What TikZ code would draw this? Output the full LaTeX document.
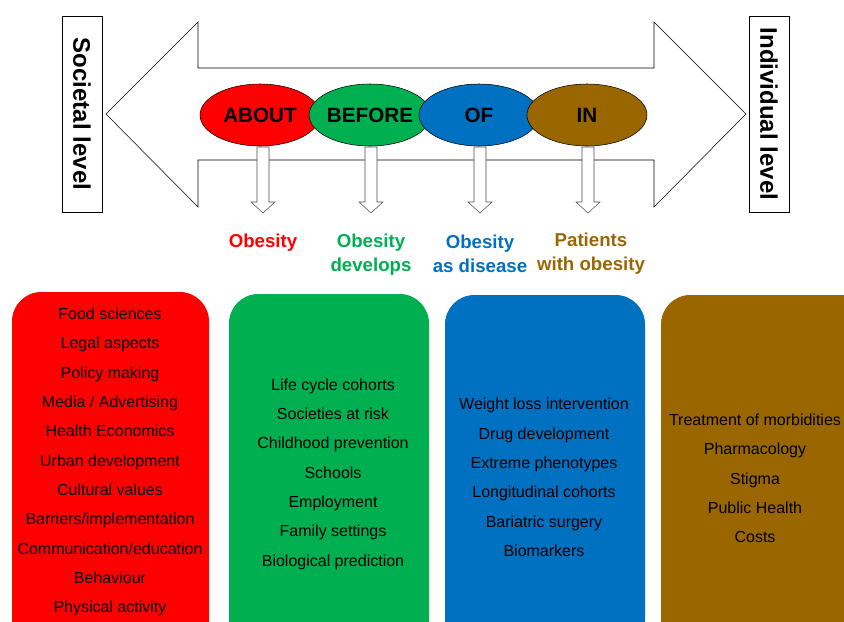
\documentclass[tikz,border=0pt]{standalone}
\usepackage{fontspec}
\setmainfont{Liberation Sans}
\usepackage{xcolor}
\usetikzlibrary{shapes.geometric}
\definecolor{aboutred}{HTML}{FF0000}
\definecolor{beforegreen}{HTML}{00B050}
\definecolor{ofblue}{HTML}{0070C0}
\definecolor{inbrown}{HTML}{996600}
\begin{document}
\begin{tikzpicture}[x=0.75pt,y=-0.75pt]
% Styles
\tikzstyle{niveau}=[draw,thin,fill=white,rotate=-90,minimum width=147pt,minimum height=30pt,inner sep=0pt,font=\bfseries\fontsize{18}{20}\selectfont]
\tikzstyle{bulle}=[ellipse,draw,thin,minimum width=90pt,minimum height=46.5pt,inner sep=0pt,font=\bfseries\fontsize{15.5}{17}\selectfont]
\tikzstyle{bloc}=[draw=black!70,fill=white,thin]
\tikzstyle{titre}=[align=center,font=\bfseries\fontsize{14}{18}\selectfont]
\tikzstyle{liste}=[align=center,font=\fontsize{12}{22}\selectfont]
\tikzstyle{boite}=[rounded corners=22pt]
% Dimensions
\def\ColA{263}
\def\ColB{371}
\def\ColC{480}
\def\ColD{588}
% Frame
\useasboundingbox (0,0) rectangle (844,622);
\clip (0,0) rectangle (844,622);
% Big double arrow
\draw[thin] (106,114) -- (198,22) -- (198,68) -- (654,68) -- (654,22) -- (746,114)
  -- (654,207) -- (654,160) -- (198,160) -- (198,207) -- cycle;
% Levels
\node[niveau] (societal) at (82,114) {Societal level};
\node[niveau] (individual) at (769,114) {Individual level};
% Bubbles
\node[bulle,fill=aboutred] (about) at (260,115) {ABOUT};
\node[bulle,fill=beforegreen] (before) at (370,115) {BEFORE};
\node[bulle,fill=ofblue] (of) at (479,115) {OF};
\node[bulle,fill=inbrown] (in) at (587,115) {IN};
% Down arrows
\draw[bloc] ({\ColA-6},147) -- ({\ColA+6},147) -- ({\ColA+6},202) -- ({\ColA+12},202) -- (\ColA,213) -- ({\ColA-12},202) -- ({\ColA-6},202) -- cycle;
\draw[bloc] ({\ColB-6},147) -- ({\ColB+6},147) -- ({\ColB+6},202) -- ({\ColB+12},202) -- (\ColB,213) -- ({\ColB-12},202) -- ({\ColB-6},202) -- cycle;
\draw[bloc] ({\ColC-6},147) -- ({\ColC+6},147) -- ({\ColC+6},202) -- ({\ColC+12},202) -- (\ColC,213) -- ({\ColC-12},202) -- ({\ColC-6},202) -- cycle;
\draw[bloc] ({\ColD-6},147) -- ({\ColD+6},147) -- ({\ColD+6},202) -- ({\ColD+12},202) -- (\ColD,213) -- ({\ColD-12},202) -- ({\ColD-6},202) -- cycle;
% Titles
\node[titre,text=aboutred] (tabout) at (\ColA,243) {Obesity};
\node[titre,text=beforegreen] (tbefore) at (\ColB,255) {Obesity\\develops};
\node[titre,text=ofblue] (tof) at (\ColC,254) {Obesity\\as disease};
\node[titre,text=inbrown] (tin) at (591,254) {Patients\\with obesity};
% Boxes
\fill[boite,aboutred] (12,292) rectangle (209,650);
\fill[boite,beforegreen] (229,294) rectangle (429,650);
\fill[boite,ofblue] (445,295) rectangle (645,650);
\fill[boite,inbrown] (661,295) rectangle (870,650);
% Lists
\node[liste] (labout) at (110,462) {Food sciences\\Legal aspects\\Policy making\\Media / Advertising\\Health Economics\\Urban development\\Cultural values\\Barriers/implementation\\Communication/education\\Behaviour\\Physical activity};
\node[liste] (lbefore) at (333,474) {Life cycle cohorts\\Societies at risk\\Childhood prevention\\Schools\\Employment\\Family settings\\Biological prediction};
\node[liste] (lof) at (544,477.5) {Weight loss intervention\\Drug development\\Extreme phenotypes\\Longitudinal cohorts\\Bariatric surgery\\Biomarkers};
\node[liste] (lin) at (755,478.5) {Treatment of morbidities\\Pharmacology\\Stigma\\Public Health\\Costs};
\end{tikzpicture}
\end{document}
